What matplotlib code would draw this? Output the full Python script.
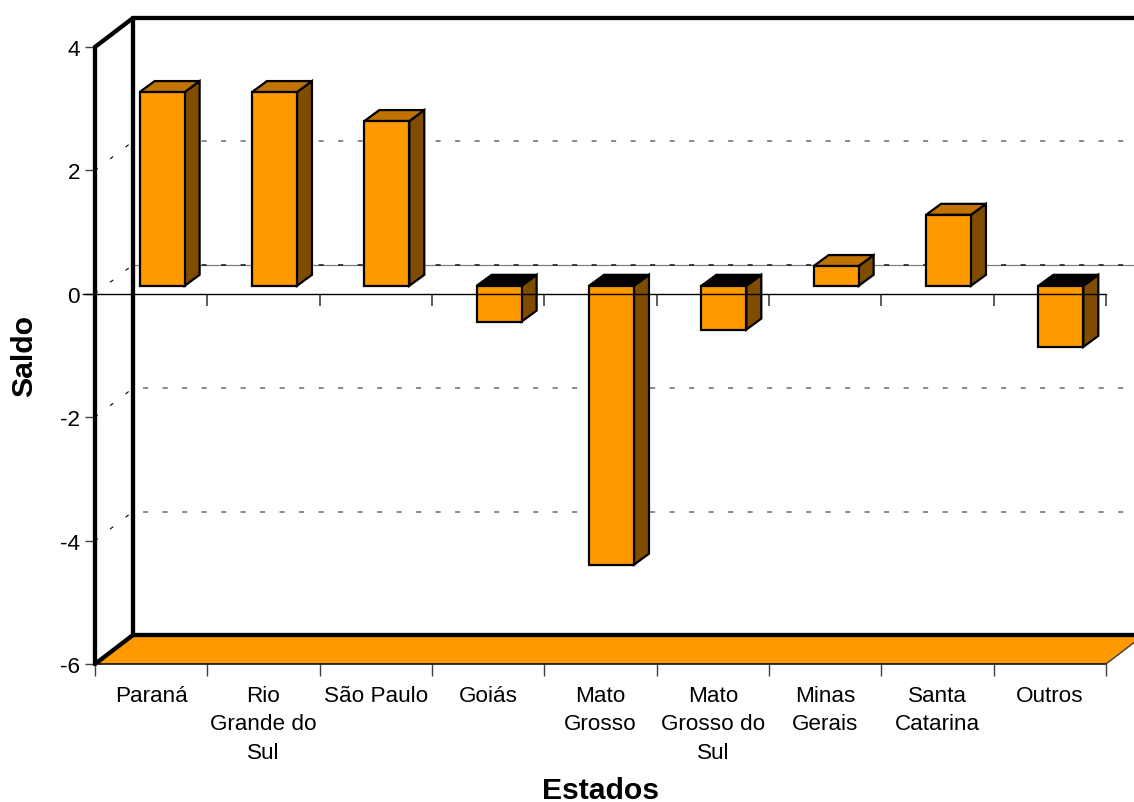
import matplotlib
matplotlib.use('Agg')
import matplotlib.pyplot as plt
from matplotlib.patches import Polygon
import numpy as np

estados = ['Paraná', 'Rio\nGrande do\nSul', 'São Paulo', 'Goiás', 'Mato\nGrosso',
           'Mato\nGrosso do\nSul', 'Minas\nGerais', 'Santa\nCatarina', 'Outros']
saldo = [3.14, 3.14, 2.67, -0.58, -4.52, -0.71, 0.32, 1.15, -0.99]
y_ticks = [-6, -4, -2, 0, 2, 4]
grid_levels = [-4, -2, 0, 2]

LARANJA = '#FF9900'
TOPO = '#C07300'
LADO = '#804D00'

plt.rcParams['font.family'] = ['Liberation Sans', 'DejaVu Sans']
plt.rcParams['axes.unicode_minus'] = False

fig = plt.figure(figsize=(11.34, 8.03), dpi=100)
ax = fig.add_axes([95 / 1134, 1 - 665 / 803, 1011 / 1134, 617 / 803])
ax.set_xlim(0, 9)
ax.set_ylim(-6, 4)
ax.patch.set_visible(False)
for s in ax.spines.values():
    s.set_visible(False)

# depth of the fake 3D box and of each bar, in data units
depth_x = 38 / 112.33
depth_y = 29 / 61.7
bar_dx = 15 / 112.33
bar_dy = 11 / 61.7
off_x = 11 / 112.33
off_y = 8 / 61.7
bar_w = 0.4
x_end = 9 + depth_x

# floor
ax.add_patch(Polygon([(0, -6), (depth_x, -6 + depth_y), (x_end, -6 + depth_y), (9, -6)],
                     closed=True, fc=LARANJA, ec='none', zorder=1, clip_on=False))

# dotted grid on the back wall and its little marks on the side wall
for g in grid_levels:
    if g == 0:
        ax.plot([depth_x, x_end], [g + depth_y, g + depth_y], color='#808080', lw=0.9,
                zorder=1.5, clip_on=False)
    ax.plot([depth_x, x_end], [g + depth_y, g + depth_y], color='#303030' if g == 0 else '#808080',
            lw=1.3, ls=(5.2, (2.8, 8.0)), zorder=1.6, clip_on=False)
    ax.plot([0, depth_x], [g, g + depth_y], color='black', lw=0.8,
            ls=(0.4, (3.5, 14.0)), zorder=1.6, clip_on=False)

# bars
for i, v in enumerate(saldo):
    x0 = i + 0.5 - bar_w / 2 + off_x
    x1 = x0 + bar_w
    base = off_y
    top = base + v
    high = max(base, top)
    low = min(base, top)
    ax.add_patch(Polygon([(x1, low), (x1 + bar_dx, low + bar_dy),
                          (x1 + bar_dx, high + bar_dy), (x1, high)],
                         closed=True, fc=LADO, ec='black', lw=1.6, zorder=3, clip_on=False))
    ax.add_patch(Polygon([(x0, high), (x0 + bar_dx, high + bar_dy),
                          (x1 + bar_dx, high + bar_dy), (x1, high)],
                         closed=True, fc=TOPO if v > 0 else 'black', ec='black', lw=1.6,
                         zorder=3, clip_on=False))
    ax.bar(x0, v, width=bar_w, bottom=base, align='edge', color=LARANJA,
           edgecolor='black', linewidth=1.6, zorder=4, clip_on=False)

# zero line with its ticks
ax.plot([-12 / 112.33, 9], [0, 0], color='black', lw=1, zorder=5, clip_on=False)
ax.vlines(np.arange(1, 10), -12 / 61.7, 0, color='#303030', lw=1.1, zorder=2, clip_on=False)

# box edges
heavy = dict(color='black', lw=3.1, zorder=6, clip_on=False, solid_capstyle='round')
ax.plot([0, 0], [-6, 4], **heavy)
ax.plot([depth_x, depth_x], [-6 + depth_y, 4 + depth_y], **heavy)
ax.plot([0, depth_x], [4, 4 + depth_y], **heavy)
ax.plot([0, depth_x], [-6, -6 + depth_y], **heavy)
ax.plot([depth_x, x_end], [4 + depth_y, 4 + depth_y], **heavy)
ax.plot([depth_x, x_end], [-6 + depth_y, -6 + depth_y], **heavy)
ax.plot([0, 9], [-6, -6], color='black', lw=1.1, zorder=6, clip_on=False)
ax.plot([9, x_end], [-6, -6 + depth_y], color='#303030', lw=0.9, zorder=6, clip_on=False)

ax.set_yticks(y_ticks)
ax.set_xticks(np.arange(10))
ax.set_xticklabels([])
ax.set_xticks(np.arange(9) + 0.5, minor=True)
ax.set_xticklabels(estados, minor=True, fontsize=16.2, linespacing=1.47)
ax.tick_params(axis='x', which='major', length=8.6, width=1, color='#404040')
ax.tick_params(axis='x', which='minor', length=0, pad=15)
ax.tick_params(axis='y', length=7.2, width=1, color='#404040', labelsize=16.2, pad=3.5)

ax.set_xlabel('Estados', fontsize=21.7, fontweight='bold', labelpad=9.5)
ax.set_ylabel('Saldo', fontsize=21.7, fontweight='bold', labelpad=15.5)

fig.savefig('out.png', dpi=100)
